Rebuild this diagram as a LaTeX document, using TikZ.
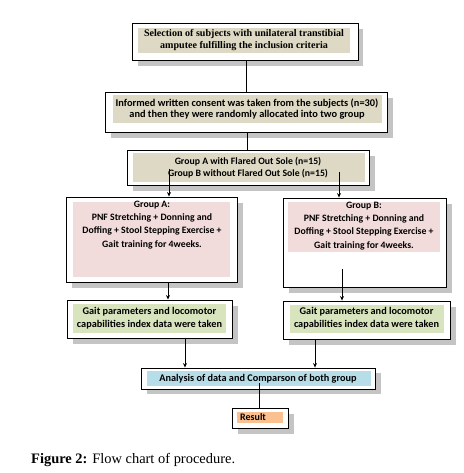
\documentclass[tikz,border=0pt]{standalone}
\usepackage{fontspec}
\setmainfont{Liberation Serif}
\newfontfamily\calfont{Carlito}
\usetikzlibrary{arrows.meta}
\definecolor{beige}{HTML}{DDD9C4}
\definecolor{pinkfill}{HTML}{F2DCDB}
\definecolor{greenfill}{HTML}{D7E4BD}
\definecolor{bluefill}{HTML}{B7DDE8}
\definecolor{orangefill}{HTML}{FAC090}
\definecolor{shadowgray}{HTML}{C4C4C4}
\begin{document}
\begin{tikzpicture}[x=1bp,y=-1bp,
  outer/.style={draw=black, fill=white, line width=0.9bp, inner sep=0pt},
  shade/.style={fill=shadowgray},
  txt/.style={align=center, inner sep=0pt},
  conn/.style={line width=0.7bp},
  arr/.style={conn, -{Stealth[length=4.5bp,width=4bp]}}]
\useasboundingbox (0,0) rectangle (464,473);

% shadows
\fill[shade] (138,29) rectangle (363,66);
\fill[shade] (111,98) rectangle (393,138);
\fill[shade] (133,156) rectangle (375,191);
\fill[shade] (72,203) rectangle (243,288);
\fill[shade] (289,204) rectangle (452,293);
\fill[shade] (73,306) rectangle (238,344);
\fill[shade] (289,307) rectangle (456,345);
\fill[shade] (147,373) rectangle (381,394);
\fill[shade] (238,414) rectangle (294,434);

% outer boxes
\node[outer, minimum width=226bp, minimum height=37bp] (b1) at (245,41.5) {};
\node[outer, minimum width=282bp, minimum height=40bp] (b2) at (246,112) {};
\node[outer, minimum width=242bp, minimum height=35bp] (b3) at (248,167.5) {};
\node[outer, minimum width=171bp, minimum height=85bp] (b4) at (151.5,239.5) {};
\node[outer, minimum width=163bp, minimum height=89bp] (b5) at (364.5,242.5) {};
\node[outer, minimum width=165bp, minimum height=38bp] (b6) at (149.5,319) {};
\node[outer, minimum width=167bp, minimum height=38bp] (b7) at (366.5,320) {};
\node[outer, minimum width=234bp, minimum height=21bp] (b8) at (258,378.5) {};
\node[outer, minimum width=56bp, minimum height=20bp] (b9) at (260,418) {};

% inner fills
\fill[beige] (138,28) rectangle (350,53);
\fill[beige] (113,95) rectangle (382,123);
\fill[beige] (133,153) rectangle (365,182);
\fill[pinkfill] (73,202) rectangle (230,277);
\fill[pinkfill] (288,202) rectangle (440,252);
\fill[greenfill] (73,304) rectangle (226,333);
\fill[greenfill] (290,305) rectangle (444,333);
\fill[bluefill] (147,371) rectangle (371,386);
\fill[orangefill] (237,412) rectangle (283,423);

% texts
\node[txt, font=\bfseries\fontsize{10.1}{12}\selectfont] (t1) at (244,40.5)
  {Selection of subjects with unilateral transtibial\\amputee fulfilling the inclusion criteria};
\node[txt, font=\calfont\bfseries\fontsize{10.4}{11.5}\selectfont] (t2) at (247,109)
  {Informed written consent was taken from the subjects (n=30)\\and then they were randomly allocated into two group};
\node[txt, font=\calfont\bfseries\fontsize{9.8}{11.5}\selectfont] (t3) at (248,167.5)
  {Group A with Flared Out Sole (n=15)\\Group B without Flared Out Sole (n=15)};
\node[txt, font=\calfont\bfseries\fontsize{9.8}{13.3}\selectfont] (t4) at (152,225)
  {Group A:\\PNF Stretching + Donning and\\Doffing + Stool Stepping Exercise +\\Gait training for 4weeks.};
\node[txt, font=\calfont\bfseries\fontsize{9.8}{13.3}\selectfont] (t5) at (364,226)
  {Group B:\\PNF Stretching + Donning and\\Doffing + Stool Stepping Exercise +\\Gait training for 4weeks.};
\node[txt, font=\calfont\bfseries\fontsize{10.3}{13}\selectfont] (t6) at (149.5,318.5)
  {Gait parameters and locomotor\\capabilities index data were taken};
\node[txt, font=\calfont\bfseries\fontsize{10.3}{13}\selectfont] (t7) at (366.5,318.5)
  {Gait parameters and locomotor\\capabilities index data were taken};
\node[txt, font=\calfont\bfseries\fontsize{10.3}{12}\selectfont] (t8) at (258,378.5)
  {Analysis of data and Comparson of both group};
\node[txt, font=\calfont\bfseries\fontsize{10}{12}\selectfont, anchor=west] (t9) at (240,417.5)
  {Result};

% caption
\node[anchor=west, inner sep=0pt, font=\fontsize{14.5}{16}\selectfont] (cap) at (31,460)
  {\textbf{Figure 2:} Flow chart of procedure.};

% connector start points inside boxes
\coordinate (c3a) at (169,169);
\coordinate (c3b) at (339,172);
\coordinate (c5) at (342,269);
\coordinate (c8) at (259,383);

% connectors
\draw[conn] (b1.south -| 246,0) -- (b2.north -| 246,0);
\draw[conn] (b2.south -| 247,0) -- (b3.north -| 247,0);
\draw[arr] (c3a) -- (c3a |- b4.north);
\draw[arr] (c3b) -- (c3b |- b5.north);
\draw[arr] (b4.south -| 168,0) -- (b6.north -| 168,0);
\draw[arr] (c5) -- (c5 |- b7.north);
\draw[arr] (b6.south -| 185,0) -- (b8.north -| 185,0);
\draw[arr] (b7.south -| 315,0) -- (b8.north -| 315,0);
\draw[conn] (c8) -- (c8 |- b9.north);
\end{tikzpicture}
\end{document}
